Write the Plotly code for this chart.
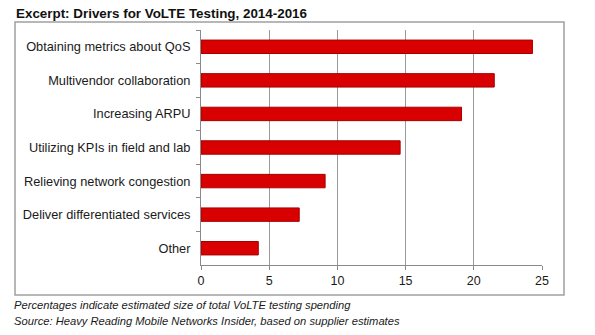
import plotly.graph_objects as go

categories = [
    "Obtaining metrics about QoS",
    "Multivendor collaboration",
    "Increasing ARPU",
    "Utilizing KPIs in field and lab",
    "Relieving network congestion",
    "Deliver differentiated services",
    "Other",
]
values = [24.3, 21.5, 19.1, 14.6, 9.1, 7.2, 4.2]
x_ticks = [0, 5, 10, 15, 20, 25]

title_text = "Excerpt: Drivers for VoLTE Testing, 2014-2016"
note_lines = [
    "Percentages indicate estimated size of total VoLTE testing spending",
    "Source: Heavy Reading Mobile Networks Insider, based on supplier estimates",
]

W, H = 595, 335
L, R, T, B = 201, 53, 30, 70
pw, ph = W - L - R, H - T - B


def px_x(p):
    return (p - L) / pw


def px_y(p):
    return (H - B - p) / ph


fig = go.Figure()
fig.add_trace(go.Bar(
    y=categories,
    x=values,
    orientation="h",
    marker=dict(color="#d80000", line=dict(color="#a80000", width=1)),
    hoverinfo="x+y",
))

font = "Liberation Sans, Arial, sans-serif"
fig.update_layout(
    width=W, height=H,
    margin=dict(l=L, r=R, t=T, b=B),
    paper_bgcolor="white",
    plot_bgcolor="white",
    bargap=0.6,
    showlegend=False,
    font=dict(family=font, size=12, color="#1a1a1a"),
    xaxis=dict(
        range=[0, 25],
        tickvals=x_ticks,
        showgrid=True,
        gridcolor="#9a9a9a",
        gridwidth=1,
        zeroline=False,
        showline=True,
        linecolor="#8a8a8a",
        ticks="outside",
        ticklen=4,
        tickcolor="#8a8a8a",
        tickfont=dict(size=12.5, color="#1a1a1a"),
        fixedrange=True,
    ),
    yaxis=dict(
        autorange="reversed",
        showline=True,
        linecolor="#8a8a8a",
        ticks="outside",
        ticklen=4,
        tickcolor="#8a8a8a",
        tickson="boundaries",
        ticklabelstandoff=7,
        showgrid=False,
        tickfont=dict(size=12.8, color="#1a1a1a"),
        fixedrange=True,
    ),
    shapes=[dict(
        type="rect", xref="paper", yref="paper",
        x0=px_x(15), x1=px_x(564), y0=px_y(295), y1=px_y(22),
        line=dict(color="#a0a0a0", width=1.5),
        fillcolor="rgba(0,0,0,0)",
        layer="below",
    )],
    annotations=[
        dict(text="<b>" + title_text + "</b>", xref="paper", yref="paper",
             x=px_x(14), y=px_y(13), xanchor="left", yanchor="middle",
             showarrow=False, font=dict(size=13.4, color="#111")),
        dict(text="<i>" + note_lines[0] + "</i>", xref="paper", yref="paper",
             x=px_x(12), y=px_y(305), xanchor="left", yanchor="middle",
             showarrow=False, font=dict(size=11.2, color="#1a1a1a")),
        dict(text="<i>" + note_lines[1] + "</i>", xref="paper", yref="paper",
             x=px_x(12), y=px_y(321), xanchor="left", yanchor="middle",
             showarrow=False, font=dict(size=11.2, color="#1a1a1a")),
    ],
)

fig.write_html("out.html")
